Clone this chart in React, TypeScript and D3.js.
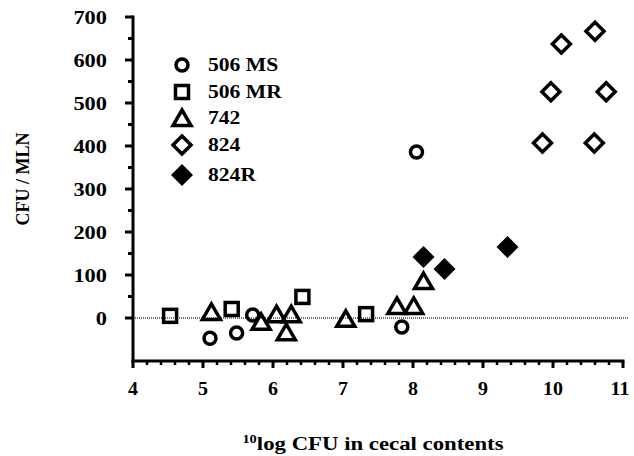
import React from "react";
import * as d3 from "d3";

// series: [log10 CFU, CFU/MLN]
const ms506 = [
  [5.1, -47],
  [5.48, -35],
  [5.71, 7],
  [7.84, -21],
  [8.05, 386],
];
const mr506 = [
  [4.53, 5],
  [5.41, 21],
  [6.42, 49],
  [7.33, 9],
];
const s742 = [
  [5.12, 14],
  [5.83, -9],
  [6.05, 9],
  [6.19, -33],
  [6.26, 9],
  [7.04, -2],
  [7.77, 28],
  [8.01, 28],
  [8.15, 86],
];
const s824 = [
  [9.85, 407],
  [9.97, 526],
  [10.12, 637],
  [10.59, 407],
  [10.6, 667],
  [10.76, 526],
];
const s824R = [
  [8.15, 142],
  [8.45, 114],
  [9.35, 165],
];

const legendNames = ["506 MS", "506 MR", "742", "824", "824R"];
const xTicks = [4, 5, 6, 7, 8, 9, 10, 11];
const yTicks = [0, 100, 200, 300, 400, 500, 600, 700];

type Shape = "circle" | "square" | "triangle" | "diamond" | "fdiamond";

const seriesList: { data: number[][]; shape: Shape }[] = [
  { data: ms506, shape: "circle" },
  { data: mr506, shape: "square" },
  { data: s742, shape: "triangle" },
  { data: s824, shape: "diamond" },
  { data: s824R, shape: "fdiamond" },
];

const Marker = ({ shape, x, y }: { shape: Shape; x: number; y: number }) => {
  const sw = 3.5;
  if (shape === "circle")
    return <circle cx={x} cy={y} r={6} fill="none" stroke="#000" strokeWidth={sw} />;
  if (shape === "square")
    return <rect x={x - 6.5} y={y - 6.5} width={13} height={13} fill="none" stroke="#000" strokeWidth={sw} />;
  if (shape === "triangle")
    return (
      <path
        d={`M${x},${y - 8}L${x + 9},${y + 7.5}L${x - 9},${y + 7.5}Z`}
        fill="none"
        stroke="#000"
        strokeWidth={sw}
      />
    );
  const r = shape === "diamond" ? 9 : 11;
  return (
    <path
      d={`M${x},${y - r}L${x + r},${y}L${x},${y + r}L${x - r},${y}Z`}
      fill={shape === "fdiamond" ? "#000" : "none"}
      stroke="#000"
      strokeWidth={shape === "fdiamond" ? 0 : sw}
    />
  );
};

// bold serif text, a bit wider than tall like the scanned figure
const Wide = ({ x, y, sx = 1.2, anchor = "start", size = 18, children }: any) => (
  <g transform={`translate(${x},${y}) scale(${sx},1)`}>
    <text x={0} y={0} textAnchor={anchor} fontSize={size}>
      {children}
    </text>
  </g>
);

export default function App() {
  const W = 634;
  const H = 456;
  const x = d3.scaleLinear().domain([4, 11]).range([133, 623]);
  const y = d3.scaleLinear().domain([-100, 700]).range([361, 17]);
  const font = "'Liberation Serif', 'Times New Roman', serif";

  const xMinor = d3.range(4, 11.0001, 0.2);
  const yMinor = d3.range(0, 700.001, 50);

  return (
    <svg
      width={W}
      height={H}
      style={{ position: "absolute", left: 0, top: 0, background: "#fff" }}
      fontFamily={font}
      fontWeight="bold"
    >
      {/* zero line */}
      <line
        x1={x(4)}
        x2={628}
        y1={y(0)}
        y2={y(0)}
        stroke="#444"
        strokeWidth={1.3}
        strokeDasharray="1,1"
      />

      {/* y axis */}
      <line x1={x(4)} x2={x(4)} y1={y(700) - 1.5} y2={y(-100) + 1.5} stroke="#000" strokeWidth={3} />
      {yMinor.map((t) => (
        <line
          key={"ym" + t}
          x1={x(4) - (t % 100 === 0 ? 8 : 5)}
          x2={x(4)}
          y1={y(t)}
          y2={y(t)}
          stroke="#000"
          strokeWidth={3}
        />
      ))}
      {yTicks.map((t) => (
        <Wide key={"yt" + t} x={107} y={y(t) + 6.5} anchor="end" size={19} sx={1.18}>
          {t}
        </Wide>
      ))}

      {/* x axis */}
      <line x1={x(4) - 1.5} x2={x(11) + 1.5} y1={y(-100)} y2={y(-100)} stroke="#000" strokeWidth={3} />
      {xMinor.map((t) => {
        const major = Math.abs(t - Math.round(t)) < 1e-6;
        return (
          <line
            key={"xm" + t}
            x1={x(t)}
            x2={x(t)}
            y1={y(-100)}
            y2={y(-100) + (major ? 7 : 4)}
            stroke="#000"
            strokeWidth={major ? 3 : 2.5}
          />
        );
      })}
      {xTicks.map((t) => (
        <Wide key={"xt" + t} x={Math.min(x(t), 620)} y={395} anchor="middle" size={19} sx={1.05}>
          {t}
        </Wide>
      ))}

      {/* titles */}
      <g transform="translate(29,179) rotate(-90)">
        <text textAnchor="middle" fontSize={18}>
          CFU / MLN
        </text>
      </g>
      <g transform="translate(373,450) scale(1.2,1)">
        <text x={0} y={0} textAnchor="middle" fontSize={19}>
          <tspan fontSize={12} dy={-7}>10</tspan>
          <tspan dy={7}>log CFU in cecal contents</tspan>
        </text>
      </g>

      {/* data */}
      {seriesList.map((s, i) =>
        s.data.map((d, j) => (
          <Marker key={i + "-" + j} shape={s.shape} x={x(d[0])} y={y(d[1])} />
        ))
      )}

      {/* legend */}
      {legendNames.map((name, i) => {
        const ly = [65, 92, 118, 145, 175][i];
        return (
          <g key={name}>
            <Marker shape={seriesList[i].shape} x={182} y={ly} />
            <Wide x={208} y={ly + 6} size={18} sx={1.2}>
              {name}
            </Wide>
          </g>
        );
      })}
    </svg>
  );
}
